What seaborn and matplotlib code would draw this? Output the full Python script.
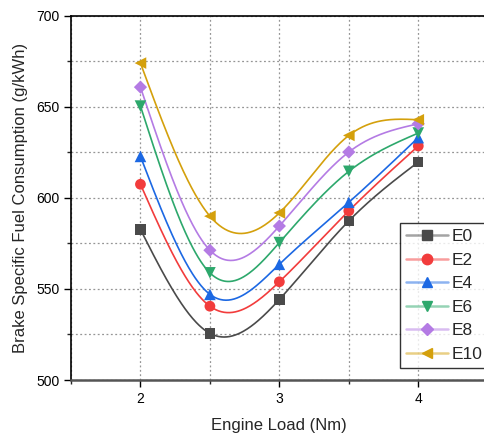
import numpy as np
import pandas as pd
import matplotlib
matplotlib.use("Agg")
import matplotlib.pyplot as plt
import seaborn as sns
from matplotlib.lines import Line2D
from matplotlib.colors import to_rgba
from matplotlib.ticker import MultipleLocator

load = [2.0, 2.5, 3.0, 3.5, 4.0]
series_names = ["E0", "E2", "E4", "E6", "E8", "E10"]
E0 = [582.6, 525.6, 544.2, 587.3, 619.6]
E2 = [607.4, 540.5, 553.9, 592.8, 628.4]
E4 = [622.7, 547.0, 563.5, 597.5, 633.0]
E6 = [650.3, 558.8, 575.4, 614.5, 635.5]
E8 = [660.7, 571.2, 584.5, 625.1, 640.6]
E10 = [673.9, 589.9, 591.7, 634.2, 642.8]
values = [E0, E2, E4, E6, E8, E10]

colors = ["#4a4a4a", "#f23c3c", "#1c68e3", "#2da86c", "#b47be4", "#d4a00c"]
markers = ["s", "o", "^", "v", "D", "<"]
msizes = [55, 60, 70, 70, 45, 70]


def natural_spline(x, y, xs):
    x = np.asarray(x, float); y = np.asarray(y, float)
    n = len(x)
    h = np.diff(x)
    A = np.zeros((n, n)); b = np.zeros(n)
    A[0, 0] = 1; A[-1, -1] = 1
    for i in range(1, n - 1):
        A[i, i - 1] = h[i - 1]
        A[i, i] = 2 * (h[i - 1] + h[i])
        A[i, i + 1] = h[i]
        b[i] = 6 * ((y[i + 1] - y[i]) / h[i] - (y[i] - y[i - 1]) / h[i - 1])
    M = np.linalg.solve(A, b)
    out = np.empty_like(xs)
    for k, t in enumerate(xs):
        i = min(max(np.searchsorted(x, t) - 1, 0), n - 2)
        a, c = x[i], x[i + 1]
        hi = c - a
        out[k] = (M[i] * (c - t) ** 3 / (6 * hi) + M[i + 1] * (t - a) ** 3 / (6 * hi)
                  + (y[i] / hi - M[i] * hi / 6) * (c - t)
                  + (y[i + 1] / hi - M[i + 1] * hi / 6) * (t - a))
    return out


rows_pts = []
rows_curve = []
xs = np.linspace(load[0], load[-1], 300)
for name, vals in zip(series_names, values):
    for x, v in zip(load, vals):
        rows_pts.append((name, x, v))
    ys = natural_spline(load, vals, xs)
    for x, v in zip(xs, ys):
        rows_curve.append((name, x, v))
pts = pd.DataFrame(rows_pts, columns=["series", "load", "bsfc"])
curve = pd.DataFrame(rows_curve, columns=["series", "load", "bsfc"])

sns.set_style("white")
plt.rcParams["font.family"] = ["Liberation Sans", "DejaVu Sans"]

fig = plt.figure(figsize=(4.84, 4.36), dpi=100)
ax = fig.add_axes([0.1467, 0.1284, 0.861, 0.836])

palette = dict(zip(series_names, colors))
sns.lineplot(data=curve, x="load", y="bsfc", hue="series", palette=palette,
             hue_order=series_names, lw=1.2, legend=False, ax=ax, sort=True)
for name, m, s in zip(series_names, markers, msizes):
    sns.scatterplot(data=pts[pts.series == name], x="load", y="bsfc", color=palette[name],
                    marker=m, s=s, edgecolor="none", legend=False, ax=ax, zorder=3)

ax.set_xlim(1.5, 4.5)
ax.set_ylim(500, 700)
ax.xaxis.set_major_locator(MultipleLocator(1))
ax.xaxis.set_minor_locator(MultipleLocator(0.5))
ax.yaxis.set_major_locator(MultipleLocator(50))
ax.yaxis.set_minor_locator(MultipleLocator(25))
ax.grid(True, which="both", linestyle=(0, (1.5, 2.0)), color="#959595", lw=0.9)
ax.set_axisbelow(True)
ax.tick_params(axis="both", which="major", direction="out", length=5, width=1,
               labelsize=10, colors="black", bottom=True, left=True)
ax.tick_params(axis="both", which="minor", direction="out", length=3, width=1,
               bottom=True, left=True)
for sp in ["top", "left", "bottom", "right"]:
    ax.spines[sp].set_color("black")
    ax.spines[sp].set_linewidth(1.2)
ax.spines["bottom"].set_color("#555555")
ax.spines["bottom"].set_linewidth(1.8)
ax.set_xlabel("Engine Load (Nm)", fontsize=12, labelpad=9)
ax.set_ylabel("Brake Specific Fuel Consumption (g/kWh)", fontsize=12, labelpad=6)

handles = []
for name, m, c in zip(series_names, markers, colors):
    ms = 7.5 if m != "D" else 6.5
    handles.append(Line2D([0], [0], color=to_rgba(c, 0.5), lw=1.8, marker=m,
                          markersize=ms, markerfacecolor=c, markeredgecolor=c))
leg = ax.legend(handles, series_names, loc="lower left", bbox_to_anchor=(0.789, 0.033),
                fontsize=12.5, frameon=True, fancybox=False, edgecolor="black",
                handlelength=2.4, labelspacing=0.48, borderpad=0.35, handletextpad=0.25,
                borderaxespad=0)
leg.get_frame().set_linewidth(1.0)

fig.savefig("out.png", dpi=100)
